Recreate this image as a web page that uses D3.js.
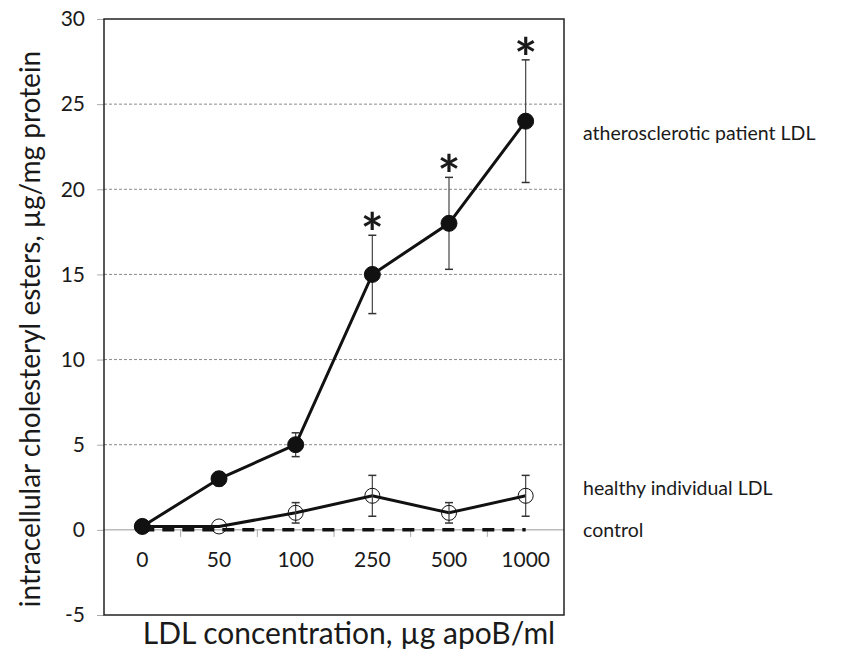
<!DOCTYPE html>
<head>
<meta charset="utf-8">
<script src="https://d3js.org/d3.v7.min.js"></script>
<style>
    body { margin: 0; background: #fff; }
    text { font-family: Lato, "Open Sans", sans-serif; fill: #1a1a1a; }
</style>
</head>
<body>
<div id="container"></div>
<script>
    // x categories (LDL concentration, µg apoB/ml)
    var categories = ['0', '50', '100', '250', '500', '1000'];
    // atherosclerotic patient LDL: mean and error (sd)
    var athValues = [0.2, 3.0, 5.0, 15.0, 18.0, 24.0];
    var athErrors = [0, 0.4, 0.7, 2.3, 2.7, 3.6];
    // healthy individual LDL
    var healthyValues = [0.2, 0.2, 1.0, 2.0, 1.0, 2.0];
    var healthyErrors = [0, 0, 0.6, 1.2, 0.6, 1.2];
    // control (no LDL)
    var controlValues = [0, 0, 0, 0, 0, 0];
    // significance marks
    var significant = [false, false, false, true, true, true];
    var yTicks = [-5, 0, 5, 10, 15, 20, 25, 30];
    var seriesLabels = ['atherosclerotic patient LDL', 'healthy individual LDL', 'control'];

    var W = 842, H = 653;
    var mLeft = 104, mRight = 564, mTop = 19, mBottom = 615;

    var svg = d3.select('#container').append('svg').attr('width', W).attr('height', H);

    var x = d3.scaleBand().domain(categories).range([mLeft, mRight]);
    var y = d3.scaleLinear().domain([-5, 30]).range([mBottom, mTop]);
    var cx = function(i){ return x(categories[i]) + x.bandwidth() / 2; };

    // dashed grid lines
    svg.append('g').selectAll('line')
        .data(yTicks.filter(function(d){ return d > 0 && d < 30; }))
        .enter().append('line')
        .attr('x1', mLeft).attr('x2', mRight)
        .attr('y1', d => y(d)).attr('y2', d => y(d))
        .attr('stroke', '#8a8a8a').attr('stroke-width', 1).attr('stroke-dasharray', '3,2');

    // y axis with small grey ticks
    var yAxis = svg.append('g').attr('transform', 'translate(' + mLeft + ',0)')
        .call(d3.axisLeft(y).tickValues(yTicks).tickSize(7).tickPadding(12).tickFormat(d => String(d)));
    yAxis.select('.domain').remove();
    yAxis.selectAll('.tick line').attr('stroke', '#aaa');
    yAxis.selectAll('.tick text').attr('font-size', 21).attr('font-family', 'Lato').attr('fill', '#1a1a1a');

    // zero line
    svg.append('line').attr('x1', mLeft).attr('x2', mRight)
        .attr('y1', y(0)).attr('y2', y(0)).attr('stroke', '#999').attr('stroke-width', 1);

    // x axis at y = 0, ticks between categories
    var xAxis = svg.append('g').attr('transform', 'translate(0,' + y(0) + ')')
        .call(d3.axisBottom(x).tickSize(0).tickPadding(22));
    xAxis.select('.domain').remove();
    xAxis.selectAll('.tick text').attr('font-size', 21).attr('font-family', 'Lato').attr('fill', '#1a1a1a');
    svg.append('g').selectAll('line').data(categories.slice(1)).enter().append('line')
        .attr('x1', d => x(d)).attr('x2', d => x(d))
        .attr('y1', y(0)).attr('y2', y(0) + 7)
        .attr('stroke', '#aaa').attr('stroke-width', 1);

    // frame
    svg.append('rect').attr('x', mLeft).attr('y', mTop)
        .attr('width', mRight - mLeft).attr('height', mBottom - mTop)
        .attr('fill', 'none').attr('stroke', '#222').attr('stroke-width', 1.5);

    // control dashed line
    var line = d3.line().x((d, i) => cx(i)).y(d => y(d));
    svg.append('path').datum(controlValues)
        .attr('d', line).attr('fill', 'none')
        .attr('stroke', '#111').attr('stroke-width', 3.5).attr('stroke-dasharray', '12,8');

    function drawSeries(values, errors, filled) {
        var g = svg.append('g');
        g.append('path').datum(values).attr('d', line)
            .attr('fill', 'none').attr('stroke', '#111').attr('stroke-width', 3);
        values.forEach(function(v, i){
            if (errors[i] > 0) {
                var xx = cx(i);
                g.append('line').attr('x1', xx).attr('x2', xx)
                    .attr('y1', y(v - errors[i])).attr('y2', y(v + errors[i]))
                    .attr('stroke', '#444').attr('stroke-width', 1.2);
                [v - errors[i], v + errors[i]].forEach(function(e){
                    g.append('line').attr('x1', xx - 4).attr('x2', xx + 4)
                        .attr('y1', y(e)).attr('y2', y(e))
                        .attr('stroke', '#333').attr('stroke-width', 1.5);
                });
            }
        });
        g.selectAll('circle').data(values).enter().append('circle')
            .attr('cx', (d, i) => cx(i)).attr('cy', d => y(d))
            .attr('r', filled ? 8 : 7.5)
            .attr('fill', filled ? '#111' : 'none')
            .attr('stroke', '#111').attr('stroke-width', 1);
        return g;
    }
    drawSeries(healthyValues, healthyErrors, false);
    drawSeries(athValues, athErrors, true);

    // asterisks
    svg.append('g').selectAll('text')
        .data(athValues.map((v, i) => ({v: v, e: athErrors[i], i: i})).filter(d => significant[d.i]))
        .enter().append('text')
        .attr('x', d => cx(d.i)).attr('y', d => y(d.v + d.e) + 17)
        .attr('text-anchor', 'middle')
        .attr('font-family', 'DejaVu Sans').attr('font-weight', 'bold').attr('font-size', 54)
        .text('*');

    // series labels on the right
    var labelY = [athValues[5], healthyValues[5], controlValues[5]];
    var labelOffset = [12, -8, 0];
    svg.append('g').selectAll('text').data(seriesLabels).enter().append('text')
        .attr('x', 583).attr('y', (d, i) => y(labelY[i]) + labelOffset[i])
        .attr('dy', '0.35em')
        .attr('font-size', 19.5)
        .text(d => d);

    // axis titles
    svg.append('text')
        .attr('transform', 'translate(40,' + ((mTop + mBottom) / 2 + 12) + ') rotate(-90)')
        .attr('text-anchor', 'middle').attr('font-size', 28)
        .text('intracellular cholesteryl esters, µg/mg protein');
    svg.append('text')
        .attr('x', (mLeft + mRight) / 2 + 15).attr('y', 644)
        .attr('text-anchor', 'middle').attr('font-size', 30)
        .text('LDL concentration, µg apoB/ml');
</script>
</body>
